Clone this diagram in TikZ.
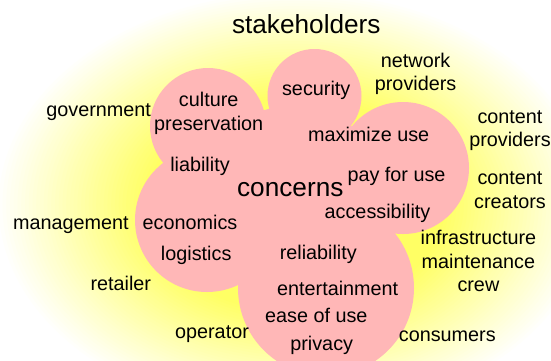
\documentclass[tikz,border=0pt]{standalone}
\usepackage{fontspec}
\setmainfont{Liberation Sans}
\definecolor{glowy}{RGB}{255,255,100}
\definecolor{cloudpink}{RGB}{255,183,183}
\begin{document}
\begin{tikzpicture}[x=1pt,y=-1pt,
  lbl/.style={anchor=base, align=center, inner sep=0pt, font=\fontsize{19.8}{23.5}\selectfont},
  big/.style={anchor=base, inner sep=0pt, font=\fontsize{26.2}{30}\selectfont},
  puff/.style={fill=cloudpink, draw=none}]
\useasboundingbox (0,0) rectangle (551,360);
\fill[white] (0,0) rectangle (551,360);
% yellow glow
\foreach \i in {0,...,40}{
  \pgfmathsetmacro{\f}{1-0.0125*\i}
  \pgfmathsetmacro{\p}{2.5*\i}
  \fill[glowy!\p!white] (295,205) ellipse [x radius=300*\f, y radius=215*\f];
}
% cloud
\fill[puff] (208,126) -- (314.5,96) -- (403,168) -- (326,288) -- (207,220) -- cycle;
\fill[puff] (208,126) circle [radius=58];
\fill[puff] (314.5,96) circle [radius=47];
\fill[puff] (403,168) circle [radius=66];
\fill[puff] (326,288) circle [radius=88];
\fill[puff] (207,220) circle [radius=72];
% titles
\node[big] (stake) at (306.3,33.3) {stakeholders};
\node[big] (conc) at (290.3,196.7) {concerns};
% stakeholders (multi-line nodes anchored at last line baseline)
\node[lbl] (net) at (415.6,90.7) {network\\providers};
\node[lbl] (gov) at (98.7,116.7) {government};
\node[lbl] (cprov) at (510,146.7) {content\\providers};
\node[lbl] (ccre) at (510,208.3) {content\\creators};
\node[lbl] (mgmt) at (70.8,229.3) {management};
\node[lbl] (infra) at (478.4,291.7) {infrastructure\\maintenance\\crew};
\node[lbl] (ret) at (120.8,290.7) {retailer};
\node[lbl] (op) at (212,338.3) {operator};
\node[lbl] (cons) at (447.3,341.7) {consumers};
% concerns
\node[lbl] (cult) at (208.7,130) {culture\\preservation};
\node[lbl] (sec) at (316.2,95.7) {security};
\node[lbl] (maxu) at (368.7,141.7) {maximize use};
\node[lbl] (liab) at (200,171.7) {liability};
\node[lbl] (pay) at (396.5,181.7) {pay for use};
\node[lbl] (acc) at (377.5,218.3) {accessibility};
\node[lbl] (econ) at (190,229.3) {economics};
\node[lbl] (log) at (196.2,260) {logistics};
\node[lbl] (rel) at (318.3,259.3) {reliability};
\node[lbl] (ent) at (337.7,295) {entertainment};
\node[lbl] (ease) at (316.3,322.7) {ease of use};
\node[lbl] (priv) at (321.7,350) {privacy};
\end{tikzpicture}
\end{document}
